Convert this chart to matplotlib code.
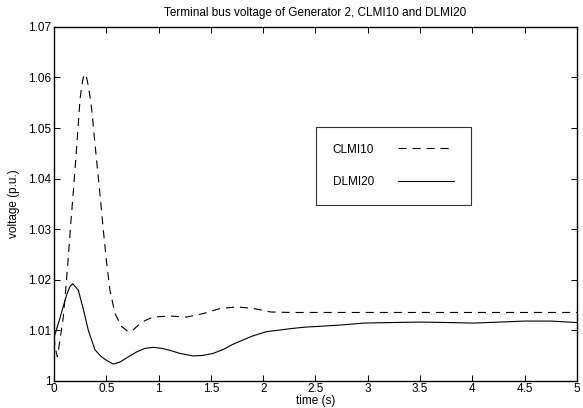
import matplotlib
matplotlib.use('Agg')
import matplotlib.pyplot as plt
from matplotlib.ticker import MultipleLocator, FuncFormatter

# Values
clmi10_t = [0.0, 0.01, 0.032, 0.057, 0.089, 0.112, 0.137, 0.16, 0.185, 0.207, 0.233,
            0.249, 0.265, 0.28, 0.296, 0.312, 0.328, 0.35, 0.366, 0.386, 0.408, 0.44,
            0.472, 0.504, 0.535, 0.583, 0.647, 0.71, 0.76, 0.822, 0.88, 0.95, 1.11,
            1.27, 1.43, 1.59, 1.75, 1.905, 2.07, 2.26, 2.6, 3.0, 3.5, 4.0, 4.5, 5.0]
clmi10_v = [1.0087, 1.0067, 1.0047, 1.0080, 1.0126, 1.0179, 1.0245, 1.0310, 1.0375, 1.0435, 1.0510,
            1.0557, 1.0583, 1.0600, 1.0607, 1.0600, 1.0583, 1.0554, 1.0527, 1.0481, 1.0435, 1.0368,
            1.0297, 1.0232, 1.0179, 1.0133, 1.0107, 1.0097, 1.0101, 1.0113, 1.0120, 1.0126, 1.0128,
            1.0126, 1.0133, 1.0143, 1.0146, 1.0143, 1.0136, 1.0135, 1.0135, 1.0135, 1.0135, 1.0135,
            1.0135, 1.0135]

dlmi20_t = [0.0, 0.057, 0.121, 0.152, 0.179, 0.233, 0.28, 0.328, 0.392, 0.45, 0.504,
            0.567, 0.631, 0.694, 0.79, 0.87, 0.95, 1.03, 1.11, 1.205, 1.33, 1.42, 1.52,
            1.62, 1.71, 1.80, 1.905, 2.03, 2.15, 2.26, 2.4, 2.57, 2.73, 2.96, 3.2, 3.5,
            3.8, 4.01, 4.26, 4.5, 4.75, 5.0]
dlmi20_v = [1.0085, 1.0124, 1.0170, 1.0186, 1.0192, 1.0179, 1.0142, 1.0100, 1.0061, 1.0048, 1.0040,
            1.0033, 1.0037, 1.0045, 1.0057, 1.0064, 1.0066, 1.0064, 1.0060, 1.0054, 1.0049, 1.0050, 1.0054,
            1.0062, 1.0072, 1.0080, 1.0089, 1.0097, 1.0100, 1.0103, 1.0106, 1.0108, 1.0110, 1.0114, 1.0115,
            1.0116, 1.0115, 1.0114, 1.0116, 1.0118, 1.0118, 1.0115]

FS = 8.5
plt.rcParams['font.family'] = ['Liberation Sans', 'DejaVu Sans']
plt.rcParams['font.size'] = FS
plt.rcParams['lines.scale_dashes'] = False

fig = plt.figure(figsize=(5.83, 4.08), dpi=100)
ax = fig.add_axes([0.0926, 0.0669, 0.8971, 0.8671])

ax.plot(clmi10_t, clmi10_v, color='black', linewidth=0.8, linestyle=(0, (5.8, 4.3)), label='CLMI10')
ax.plot(dlmi20_t, dlmi20_v, color='black', linewidth=0.8, label='DLMI20')

ax.set_xlim(0, 5)
ax.set_ylim(1.0, 1.07)
ax.xaxis.set_major_locator(MultipleLocator(0.5))
ax.yaxis.set_major_locator(MultipleLocator(0.01))
ax.xaxis.set_major_formatter(FuncFormatter(lambda v, p: '%g' % round(v, 3)))
ax.yaxis.set_major_formatter(FuncFormatter(lambda v, p: '%g' % round(v, 3)))
ax.tick_params(direction='in', length=4, width=0.7, top=True, right=True, pad=2, labelsize=FS)
for s in ax.spines.values():
    s.set_linewidth(1.0)

ax.set_title('Terminal bus voltage of Generator 2, CLMI10 and DLMI20', fontsize=FS, pad=8)
ax.set_xlabel('time (s)', fontsize=FS, labelpad=0)
ax.set_ylabel('voltage (p.u.)', fontsize=FS, labelpad=6)

leg = ax.legend(loc='upper left', bbox_to_anchor=(0.501, 0.717), markerfirst=False,
                handlelength=4.8, handletextpad=2.0, labelspacing=1.75, borderpad=1.4,
                fancybox=False, frameon=True, fontsize=FS, borderaxespad=0)
leg.get_frame().set_edgecolor('black')
leg.get_frame().set_linewidth(0.8)

fig.savefig('out.png', dpi=100)
